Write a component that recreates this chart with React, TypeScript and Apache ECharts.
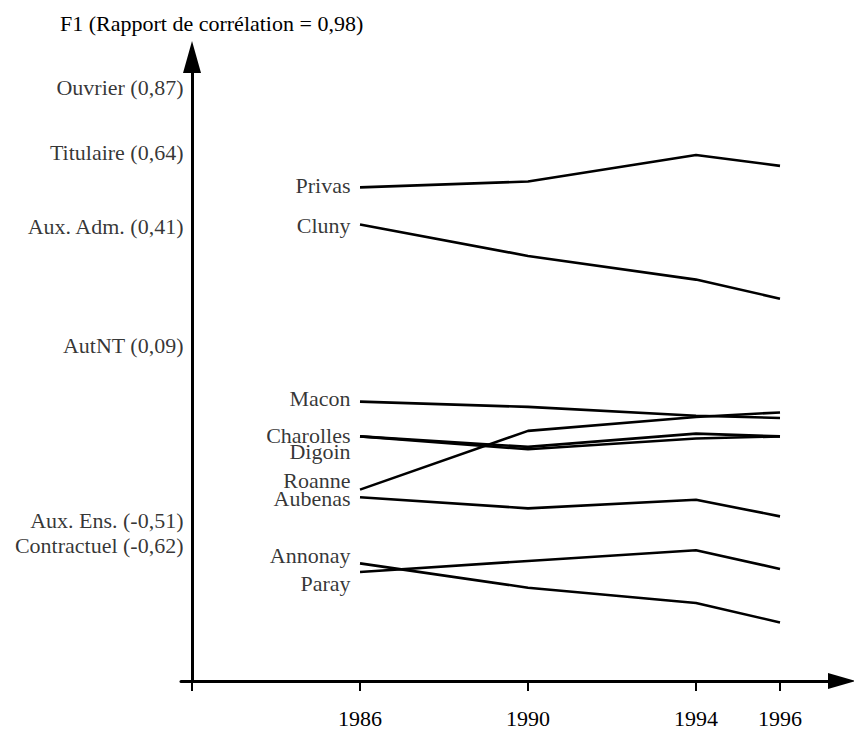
import React, { useEffect, useRef } from "react";
import * as echarts from "echarts";

// Years on the horizontal axis
const years = [1986, 1990, 1994, 1996];
const xTickValues = [1982, 1986, 1990, 1994, 1996];
const xLabelValues = [1986, 1990, 1994, 1996];

// Towns (F1 coordinate per year)
const towns = ["Privas", "Cluny", "Macon", "Charolles", "Digoin", "Roanne", "Aubenas", "Annonay", "Paray"];
const privas = [0.546, 0.565, 0.651, 0.616];
const cluny = [0.425, 0.323, 0.246, 0.184];
const macon = [-0.151, -0.168, -0.197, -0.204];
const charolles = [-0.264, -0.298, -0.255, -0.264];
const digoin = [-0.264, -0.306, -0.271, -0.264];
const roanne = [-0.437, -0.246, -0.201, -0.186];
const aubenas = [-0.462, -0.498, -0.47, -0.524];
const annonay = [-0.677, -0.756, -0.806, -0.869];
const paray = [-0.705, -0.669, -0.634, -0.695];
const townSeries = [privas, cluny, macon, charolles, digoin, roanne, aubenas, annonay, paray];
// where each town's name is written (F1 scale)
const townLabelPos = [0.553, 0.422, -0.142, -0.262, -0.314, -0.408, -0.467, -0.65, -0.742];

// Categories written along the F1 axis
const categoryNames = [
  "Ouvrier (0,87)",
  "Titulaire (0,64)",
  "Aux. Adm. (0,41)",
  "AutNT (0,09)",
  "Aux. Ens. (-0,51)",
  "Contractuel (-0,62)",
];
const categoryPos = [0.87, 0.66, 0.418, 0.033, -0.536, -0.62];

const titleText = "F1 (Rapport de corrélation = 0,98)";

const FONT = "Liberation Serif, Times New Roman, serif";
const FS = 22;

export default function App() {
  const ref = useRef<HTMLDivElement>(null);
  useEffect(() => {
    if (!ref.current) return;
    const chart = echarts.init(ref.current, undefined, { renderer: "svg" });
    const lineSeries = townSeries.map((vals, i) => ({
      type: "line",
      name: towns[i],
      data: years.map((y, j) => [y, vals[j]]),
      symbol: "none",
      silent: true,
      lineStyle: { color: "#000", width: 2.6 },
    }));
    const labelStyle = {
      show: true,
      position: "left",
      formatter: "{b}",
      fontFamily: FONT,
      fontSize: FS,
      lineHeight: 16,
      color: "#000",
    };
    chart.setOption({
      animation: false,
      backgroundColor: "#fff",
      title: {
        text: titleText,
        left: 55,
        top: 7,
        textStyle: { fontFamily: FONT, fontSize: FS, fontWeight: "normal", color: "#000" },
      },
      grid: { left: 181, right: 12, top: 57, bottom: 45, containLabel: false },
      xAxis: {
        type: "value",
        min: 1981.738,
        max: 1997.476,
        splitLine: { show: false },
        axisLine: {
          onZero: false,
          symbol: ["none", "triangle"],
          symbolSize: [16, 28],
          lineStyle: { color: "#000", width: 3 },
        },
        axisTick: {
          show: true,
          customValues: xTickValues,
          length: 10,
          lineStyle: { color: "#000", width: 2 },
        },
        axisLabel: {
          customValues: xLabelValues,
          margin: 26,
          fontFamily: FONT,
          fontSize: FS,
          color: "#000",
          formatter: (v: number) => String(v),
        },
      },
      yAxis: {
        type: "value",
        min: -1.0595,
        max: 0.97,
        offset: -11,
        splitLine: { show: false },
        axisTick: { show: false },
        axisLabel: { show: false },
        axisLine: {
          onZero: false,
          symbol: ["none", "triangle"],
          symbolSize: [18, 32],
          lineStyle: { color: "#000", width: 3 },
        },
      },
      series: [
        ...lineSeries,
        {
          type: "scatter",
          silent: true,
          symbol: "circle",
          symbolSize: 1,
          itemStyle: { color: "rgba(0,0,0,0)" },
          data: townLabelPos.map((v, i) => ({ value: [1986, v], name: towns[i] })),
          label: { ...labelStyle, distance: 9 },
        },
        {
          type: "scatter",
          silent: true,
          symbol: "circle",
          symbolSize: 1,
          itemStyle: { color: "rgba(0,0,0,0)" },
          data: categoryPos.map((v, i) => ({ value: [1982, v], name: categoryNames[i] })),
          label: { ...labelStyle, distance: 8 },
        },
      ],
    });
    return () => chart.dispose();
  }, []);
  return (
    <div
      ref={ref}
      style={{ position: "absolute", left: 0, top: 0, width: 854, height: 729, background: "#fff" }}
    />
  );
}
